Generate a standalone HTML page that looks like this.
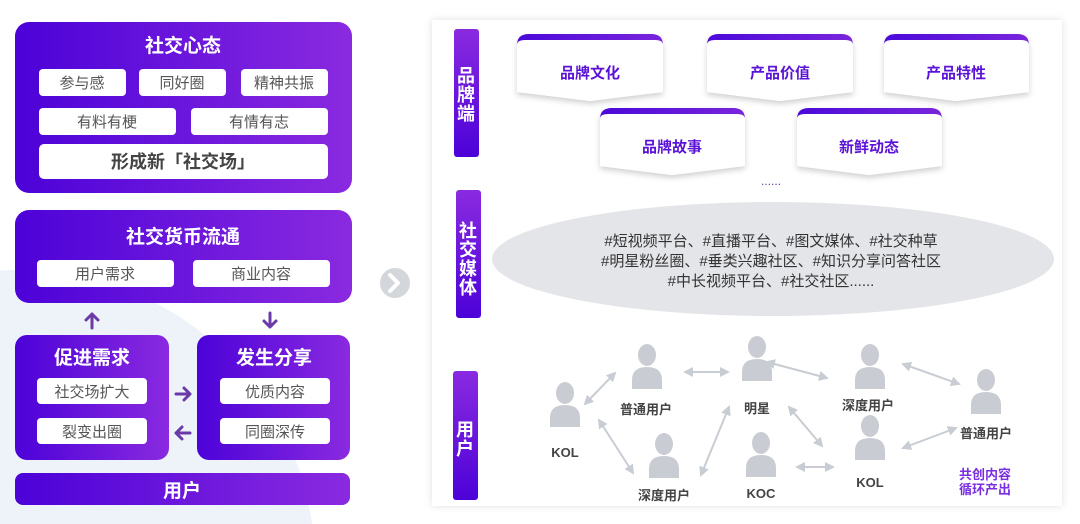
<!DOCTYPE html>
<html><head><meta charset="utf-8"><style>
html,body{margin:0;padding:0;background:#fff;width:1080px;height:524px;overflow:hidden;}
svg{display:block;}
text{font-family:"Liberation Sans","Noto Sans CJK SC",sans-serif;}
</style></head><body>
<svg width="1080" height="524" viewBox="0 0 1080 524" xmlns="http://www.w3.org/2000/svg">
<defs>
<linearGradient id="gh" x1="0" x2="1" y1="0" y2="0"><stop offset="0" stop-color="#4c02d8"/><stop offset="1" stop-color="#8a2ae0"/></linearGradient>
<linearGradient id="gv" x1="0" x2="0" y1="0" y2="1"><stop offset="0" stop-color="#8a2ae0"/><stop offset="1" stop-color="#4c02d8"/></linearGradient>
<linearGradient id="gt" x1="0" x2="1"><stop offset="0" stop-color="#4a0ad8"/><stop offset="1" stop-color="#7a25dc"/></linearGradient>
<filter id="sh" x="-20%" y="-20%" width="140%" height="160%"><feDropShadow dx="0" dy="3" stdDeviation="3" flood-color="#000" flood-opacity="0.18"/></filter>
<filter id="sh2" x="-5%" y="-5%" width="110%" height="110%"><feDropShadow dx="0" dy="0" stdDeviation="4" flood-color="#000" flood-opacity="0.12"/></filter>
<marker id="ah" viewBox="0 0 10 10" refX="8" refY="5" markerWidth="5" markerHeight="5" orient="auto-start-reverse"><path d="M0,0 L10,5 L0,10 z" fill="#c8ccd3"/></marker>
<g id="u"><ellipse cx="0" cy="-17" rx="9" ry="11" fill="#c9cdd3"/><path d="M-15,17 L-15,8 Q-15,-5 0,-5 Q15,-5 15,8 L15,17 Z" fill="#c9cdd3"/></g>
</defs>

<!-- left background circle -->
<circle cx="20" cy="565" r="295" fill="#eef3fa"/>

<!-- Box 1 -->
<rect x="15" y="22" width="337" height="171" rx="14" fill="url(#gh)"/>
<text x="183" y="52" font-size="19" font-weight="bold" fill="#fff" text-anchor="middle">社交心态</text>
<g fill="#fff">
<rect x="39" y="69" width="87" height="27" rx="4"/><rect x="139" y="69" width="87" height="27" rx="4"/><rect x="241" y="69" width="87" height="27" rx="4"/>
<rect x="39" y="108" width="137" height="27" rx="4"/><rect x="191" y="108" width="137" height="27" rx="4"/>
<rect x="39" y="144" width="289" height="35" rx="5"/>
</g>
<g font-size="15" fill="#555" text-anchor="middle">
<text x="82" y="88">参与感</text><text x="182" y="88">同好圈</text><text x="284" y="88">精神共振</text>
<text x="107" y="127">有料有梗</text><text x="259" y="127">有情有志</text>
</g>
<text x="183" y="168" font-size="18" font-weight="bold" fill="#444" text-anchor="middle">形成新「社交场」</text>

<!-- Box 2 -->
<rect x="15" y="210" width="337" height="93" rx="14" fill="url(#gh)"/>
<text x="183" y="243" font-size="19" font-weight="bold" fill="#fff" text-anchor="middle">社交货币流通</text>
<rect x="37" y="260" width="137" height="27" rx="4" fill="#fff"/><rect x="193" y="260" width="137" height="27" rx="4" fill="#fff"/>
<text x="105" y="279" font-size="15" fill="#555" text-anchor="middle">用户需求</text>
<text x="261" y="279" font-size="15" fill="#555" text-anchor="middle">商业内容</text>

<!-- arrows -->
<g stroke="#6a3aa8" stroke-width="3" fill="none" stroke-linecap="round" stroke-linejoin="round">
<path d="M92,328 V314 M86,320 L92,314 L98,320"/>
<path d="M270,313 V327 M264,321 L270,327 L276,321"/>
<path d="M176,394 H190 M184,388 L190,394 L184,400"/>
<path d="M190,433 H176 M182,427 L176,433 L182,439"/>
</g>

<!-- Box 3 / 4 -->
<rect x="15" y="335" width="154" height="125" rx="12" fill="url(#gh)"/>
<text x="92" y="364" font-size="19" font-weight="bold" fill="#fff" text-anchor="middle">促进需求</text>
<rect x="37" y="378" width="110" height="26" rx="4" fill="#fff"/><rect x="37" y="418" width="110" height="26" rx="4" fill="#fff"/>
<text x="92" y="397" font-size="15" fill="#555" text-anchor="middle">社交场扩大</text>
<text x="92" y="437" font-size="15" fill="#555" text-anchor="middle">裂变出圈</text>
<rect x="197" y="335" width="153" height="125" rx="12" fill="url(#gh)"/>
<text x="274" y="364" font-size="19" font-weight="bold" fill="#fff" text-anchor="middle">发生分享</text>
<rect x="220" y="378" width="110" height="26" rx="4" fill="#fff"/><rect x="220" y="418" width="110" height="26" rx="4" fill="#fff"/>
<text x="275" y="397" font-size="15" fill="#555" text-anchor="middle">优质内容</text>
<text x="275" y="437" font-size="15" fill="#555" text-anchor="middle">同圈深传</text>

<rect x="15" y="473" width="335" height="32" rx="8" fill="url(#gh)"/>
<text x="182" y="497" font-size="19" font-weight="bold" fill="#fff" text-anchor="middle">用户</text>

<!-- chevron -->
<circle cx="395" cy="283" r="15" fill="#d3d6da"/>
<path d="M390,275 L398,283 L390,291" stroke="#fff" stroke-width="4" fill="none" stroke-linecap="round" stroke-linejoin="round"/>

<!-- right card -->
<rect x="432" y="20" width="630" height="486" fill="#fff" filter="url(#sh2)"/>

<!-- vertical tags -->
<rect x="454" y="29" width="25" height="128" rx="3" fill="url(#gv)"/>
<text font-size="18" font-weight="bold" fill="#fff" text-anchor="middle"><tspan x="466" y="82">品</tspan><tspan x="466" y="101">牌</tspan><tspan x="466" y="120">端</tspan></text>
<rect x="456" y="190" width="25" height="128" rx="3" fill="url(#gv)"/>
<text font-size="18" font-weight="bold" fill="#fff" text-anchor="middle"><tspan x="468" y="237">社</tspan><tspan x="468" y="256">交</tspan><tspan x="468" y="275">媒</tspan><tspan x="468" y="294">体</tspan></text>
<rect x="453" y="371" width="25" height="129" rx="3" fill="url(#gv)"/>
<text font-size="18" font-weight="bold" fill="#fff" text-anchor="middle"><tspan x="465" y="436">用</tspan><tspan x="465" y="455">户</tspan></text>

<!-- brand cards -->
<g filter="url(#sh)">
<path d="M517,46 Q517,34 529,34 H651 Q663,34 663,46 V92 L590,101 L517,92 Z" fill="#fff"/>
<path d="M707,46 Q707,34 719,34 H841 Q853,34 853,46 V92 L780,101 L707,92 Z" fill="#fff"/>
<path d="M884,46 Q884,34 896,34 H1017 Q1029,34 1029,46 V92 L956,101 L884,92 Z" fill="#fff"/>
<path d="M600,120 Q600,108 612,108 H733 Q745,108 745,120 V166 L672,175 L600,166 Z" fill="#fff"/>
<path d="M797,120 Q797,108 809,108 H930 Q942,108 942,120 V166 L869,175 L797,166 Z" fill="#fff"/>
</g>
<g fill="url(#gt)">
<path d="M517,45 Q517,34 529,34 H651 Q663,34 663,45 Q663,40 655,40 H525 Q517,40 517,45 Z"/>
<path d="M707,45 Q707,34 719,34 H841 Q853,34 853,45 Q853,40 845,40 H715 Q707,40 707,45 Z"/>
<path d="M884,45 Q884,34 896,34 H1017 Q1029,34 1029,45 Q1029,40 1021,40 H892 Q884,40 884,45 Z"/>
<path d="M600,119 Q600,108 612,108 H733 Q745,108 745,119 Q745,114 737,114 H608 Q600,114 600,119 Z"/>
<path d="M797,119 Q797,108 809,108 H930 Q942,108 942,119 Q942,114 934,114 H805 Q797,114 797,119 Z"/>
</g>
<g font-size="15" font-weight="bold" fill="#5a12d6" text-anchor="middle">
<text x="590" y="78">品牌文化</text><text x="780" y="78">产品价值</text><text x="956" y="78">产品特性</text>
<text x="672" y="152">品牌故事</text><text x="869" y="152">新鲜动态</text>
</g>
<text x="771" y="185" font-size="12" fill="#6a3aa8" text-anchor="middle">......</text>

<!-- ellipse -->
<ellipse cx="773" cy="259" rx="281" ry="57" fill="#e4e5e9"/>
<g font-size="15" fill="#333" text-anchor="middle">
<text x="771" y="246">#短视频平台、#直播平台、#图文媒体、#社交种草</text>
<text x="771" y="266">#明星粉丝圈、#垂类兴趣社区、#知识分享问答社区</text>
<text x="771" y="286">#中长视频平台、#社交社区......</text>
</g>

<!-- user network arrows -->
<g stroke="#c8ccd3" stroke-width="2" marker-start="url(#ah)" marker-end="url(#ah)">
<line x1="585" y1="404" x2="615" y2="373"/>
<line x1="685" y1="372" x2="728" y2="372"/>
<line x1="767" y1="362" x2="827" y2="378"/>
<line x1="903" y1="364" x2="959" y2="384"/>
<line x1="599" y1="420" x2="633" y2="473"/>
<line x1="701" y1="475" x2="729" y2="407"/>
<line x1="789" y1="407" x2="822" y2="446"/>
<line x1="797" y1="467" x2="833" y2="467"/>
<line x1="903" y1="448" x2="956" y2="428"/>
</g>
<use href="#u" x="565" y="410"/>
<use href="#u" x="647" y="372"/>
<use href="#u" x="757" y="364"/>
<use href="#u" x="870" y="372"/>
<use href="#u" x="986" y="397"/>
<use href="#u" x="664" y="461"/>
<use href="#u" x="761" y="460"/>
<use href="#u" x="870" y="443"/>
<g font-size="13" font-weight="bold" fill="#444" text-anchor="middle">
<text x="565" y="457">KOL</text>
<text x="646" y="414">普通用户</text>
<text x="757" y="413">明星</text>
<text x="868" y="410">深度用户</text>
<text x="986" y="438">普通用户</text>
<text x="664" y="500">深度用户</text>
<text x="761" y="498">KOC</text>
<text x="870" y="487">KOL</text>
</g>
<g font-size="13" font-weight="bold" fill="#7a2ee0" text-anchor="middle">
<text x="985" y="479">共创内容</text>
<text x="985" y="494">循环产出</text>
</g>
</svg>
</body></html>
